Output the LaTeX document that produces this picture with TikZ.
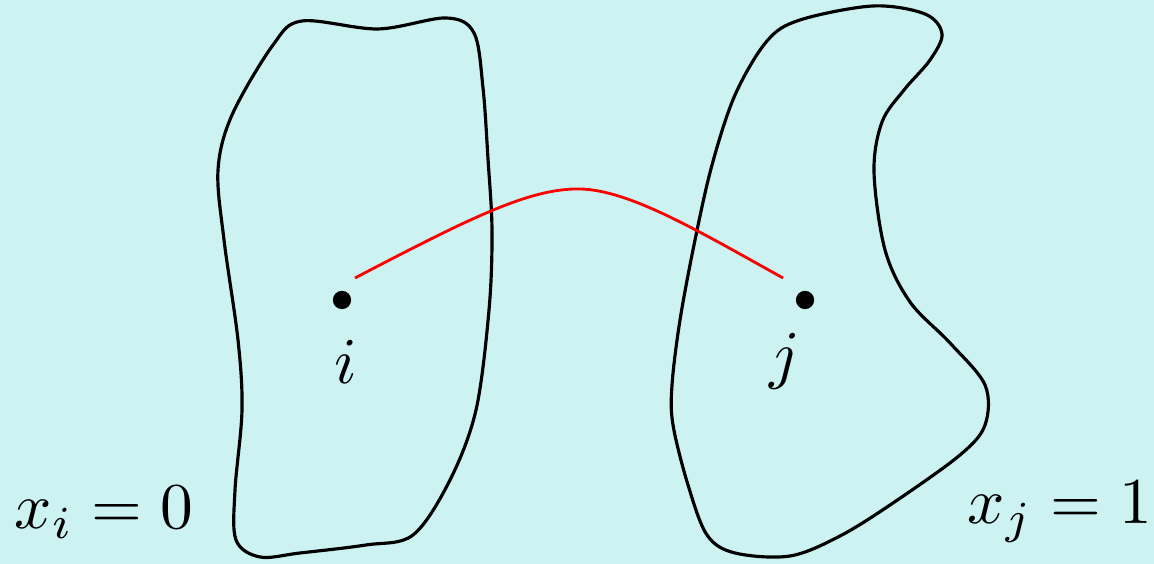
\documentclass[tikz,border=0pt]{standalone}
\usepackage{amsmath}
\usetikzlibrary{calc,positioning}
\definecolor{bgcyan}{RGB}{204,242,242}
\tikzset{
  blob/.style={draw=black, line width=0.45pt, smooth cycle, tension=0.55},
  link/.style={red, line width=0.4pt},
  dot/.style={circle, fill=black, inner sep=0pt, minimum size=2.6pt},
  lbl/.style={anchor=base, inner sep=0pt, scale=0.93}
}
\begin{document}
\begin{tikzpicture}[x=0.05mm, y=-0.05mm]
  \fill[bgcyan] (0,0) rectangle (1154,564);
  \useasboundingbox (0,0) rectangle (1154,564);
  % the two regions
  \draw[blob] plot coordinates {(273,45) (302,21) (378,29) (446,18) (474,33) (483,88) (488,159) (492,231) (489,310) (476,410) (450,480) (413,535) (366,545) (300,553) (260,557) (236,540) (235,490) (242,410) (238,340) (224,240) (218,170) (232,115)};
  \draw[blob] plot coordinates {(767,41) (800,20) (873,6) (925,14) (942,34) (930,60) (904,90) (882,122) (874,172) (885,250) (910,302) (950,343) (985,385) (985,425) (960,455) (893,503) (840,536) (790,556) (735,553) (707,535) (688,485) (673,425) (672,385) (680,320) (695,240) (712,165) (735,95)};
  % vertices
  \node[dot] (i) at (342,300) {};
  \node[dot] (j) at (805,300) {};
  \node[lbl] (li) at (346,384) {$i$};
  \node[lbl] (lj) at (785,377) {$j$};
  \coordinate (iout) at ($(i)+(13,-22)$);
  \coordinate (jout) at ($(j)+(-22,-22)$);
  \draw[link] (iout) .. controls (470,218) and (530,188) .. (580,189) .. controls (630,190) and (700,232) .. (jout);
  % assignments
  \node[lbl] (xi) at (104,529) {$x_i=0$};
  \node[lbl] (xj) at (1060,524) {$x_j=1$};
\end{tikzpicture}
\end{document}
